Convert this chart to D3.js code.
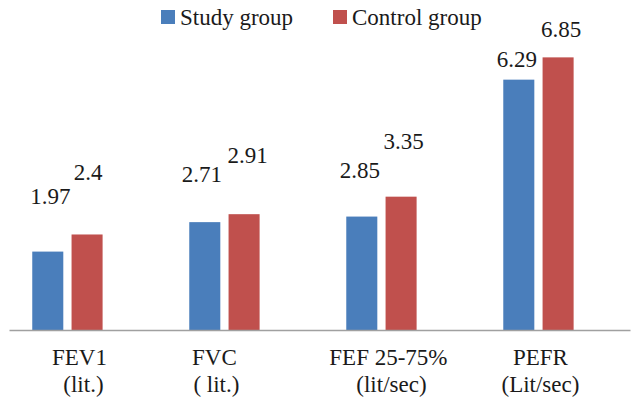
<!DOCTYPE html>
<html>
<head>
<meta charset="utf-8">
<script src="https://cdn.jsdelivr.net/npm/d3@7"></script>
<style>
  html, body { margin: 0; padding: 0; background: #fff; }
  svg { display: block; }
</style>
</head>
<body>
<svg id="chart" width="633" height="399"></svg>
<script>
// ---- data ----
const categories = ["FEV1", "FVC", "FEF 25-75%", "PEFR"];
const categoryUnits = ["(lit.)", "( lit.)", "(lit/sec)", "(Lit/sec)"];
const seriesNames = ["Study group", "Control group"];
const studyValues = [1.97, 2.71, 2.85, 6.29];
const controlValues = [2.4, 2.91, 3.35, 6.85];
const valueLabels = [["1.97", "2.71", "2.85", "6.29"], ["2.4", "2.91", "3.35", "6.85"]];

// ---- styling / layout (not data) ----
const FONT = "Liberation Serif";
const colors = ["#4a7ebb", "#c0504d"];
const labelOffsets = [
  [[2.5, -47.7], [-3, -39.7], [-2, -38.7], [-2, -12.4]],
  [[1, -54.3], [3.5, -51.6], [2.5, -47.3], [3, -20.6]]
];
const catLabelDx = [[12, 16], [-10, -8], [7, 10], [2, 2]];

const svg = d3.select("#chart").style("font-family", FONT, "important");

const x0 = d3.scaleBand().domain(categories).range([9, 630])
  .paddingInner(0.552).paddingOuter(0.2536).align(0.292);
const x1 = d3.scaleBand().domain(seriesNames).range([0, x0.bandwidth()])
  .paddingInner(0.21).paddingOuter(0);
const y = d3.scaleLinear().domain([0, 7]).range([330, 51.4]);

const series = [studyValues, controlValues];

const rows = [];
categories.forEach((c, i) => {
  seriesNames.forEach((s, j) => {
    rows.push({ cat: c, ci: i, ser: s, sj: j, value: series[j][i], label: valueLabels[j][i] });
  });
});

// bars
svg.append("g").selectAll("rect").data(rows).join("rect")
  .attr("x", d => x0(d.cat) + x1(d.ser))
  .attr("y", d => y(d.value))
  .attr("width", x1.bandwidth())
  .attr("height", d => y(0) - y(d.value))
  .attr("fill", d => colors[d.sj]);

// axis line
const xAxis = d3.axisBottom(x0).tickSize(0).tickFormat("");
const axG = svg.append("g").attr("transform", `translate(0,${y(0)})`).call(xAxis);
axG.select(".domain").attr("stroke", "#a0a0a0").attr("stroke-width", 1.6);

function styleText(sel) {
  sel.attr("font-family", FONT)
     .style("font-family", FONT, "important")
     .style("font-size", "23px")
     .attr("fill", "#1a1a1a");
}

// value labels
svg.append("g").selectAll("text").data(rows).join("text")
  .attr("x", d => x0(d.cat) + x1(d.ser) + x1.bandwidth() / 2 + labelOffsets[d.sj][d.ci][0])
  .attr("y", d => y(d.value) + labelOffsets[d.sj][d.ci][1])
  .attr("text-anchor", "middle")
  .text(d => d.label)
  .call(styleText);

// category labels
const catG = svg.append("g").selectAll("g").data(categories).join("g");
catG.append("text")
  .attr("x", (d, i) => x0(d) + x0.bandwidth() / 2 + catLabelDx[i][0])
  .attr("y", 365)
  .attr("text-anchor", "middle")
  .text(d => d)
  .call(styleText);
catG.append("text")
  .attr("x", (d, i) => x0(d) + x0.bandwidth() / 2 + catLabelDx[i][1])
  .attr("y", 392)
  .attr("text-anchor", "middle")
  .style("white-space", "pre")
  .text((d, i) => categoryUnits[i])
  .call(styleText);

// legend
const legendX = [161, 333];
const lg = svg.append("g").selectAll("g").data(seriesNames).join("g")
  .attr("transform", (d, i) => `translate(${legendX[i]},10)`);
lg.append("rect").attr("width", 14).attr("height", 14).attr("fill", (d, i) => colors[i]);
lg.append("text").attr("x", 19).attr("y", 15).text(d => d).call(styleText);
</script>
</body>
</html>
